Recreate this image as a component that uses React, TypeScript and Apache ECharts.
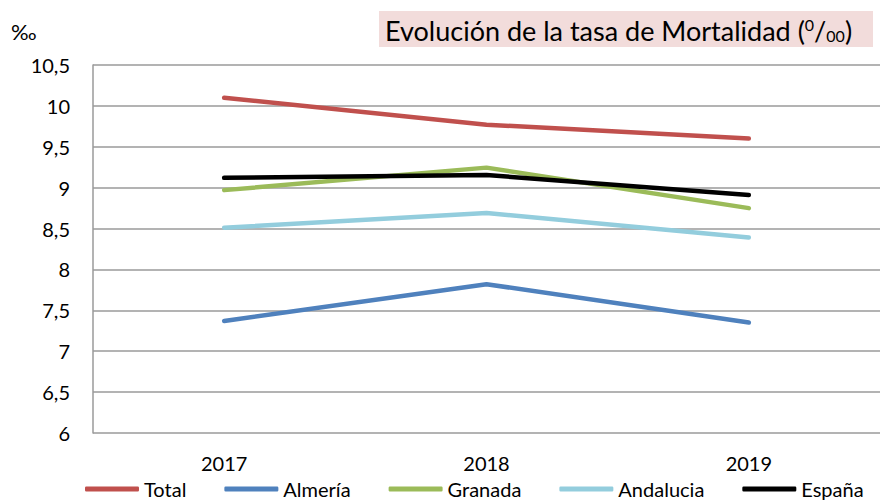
import React, { useEffect, useRef } from "react";
import * as echarts from "echarts";

const years = ["2017", "2018", "2019"];
const total = [10.1, 9.77, 9.6];
const almeria = [7.37, 7.82, 7.35];
const granada = [8.97, 9.245, 8.75];
const andalucia = [8.51, 8.69, 8.39];
const espana = [9.12, 9.155, 8.91];

const seriesNames = ["Total", "Almería", "Granada", "Andalucia", "España"];
const seriesColors = ["#c0504d", "#4f81bd", "#9bbb59", "#93cddd", "#000000"];
const seriesData = [total, almeria, granada, andalucia, espana];

const FONT = "Lato, 'Noto Sans', sans-serif";

export default function App() {
  const ref = useRef<HTMLDivElement>(null);
  useEffect(() => {
    document.body.style.margin = "0";
    if (!ref.current) return;
    const chart = echarts.init(ref.current, null, { renderer: "svg" });
    chart.setOption({
      animation: false,
      backgroundColor: "#ffffff",
      textStyle: { fontFamily: FONT },
      grid: { left: 93, top: 65, width: 798, height: 368, containLabel: false },
      graphic: [
        {
          type: "rect",
          shape: { x: 379, y: 11, width: 494, height: 36 },
          style: { fill: "#f2dcdb" },
        },
        {
          type: "text",
          x: 385,
          y: 30,
          style: {
            text: "Evolución de la tasa de Mortalidad ({sup|0}/{sub|00})",
            fontFamily: FONT,
            fontSize: 27,
            fill: "#000",
            verticalAlign: "middle",
            rich: {
              sup: { fontSize: 16, verticalAlign: "top", fontFamily: FONT, fill: "#000" },
              sub: { fontSize: 16, verticalAlign: "bottom", fontFamily: FONT, fill: "#000" },
            },
          },
        },
        {
          type: "text",
          x: 11,
          y: 31,
          style: { text: "‰", fontFamily: FONT, fontSize: 22, fill: "#000", verticalAlign: "middle" },
        },
      ],
      legend: {
        top: 479,
        left: 85,
        itemWidth: 54,
        itemHeight: 5,
        itemGap: 38,
        padding: 0,
        icon: "roundRect",
        textStyle: { fontFamily: FONT, fontSize: 20, color: "#000" },
        data: seriesNames,
      },
      xAxis: {
        type: "category",
        data: years,
        boundaryGap: true,
        axisLine: { show: false },
        axisTick: { show: false },
        axisLabel: { fontFamily: FONT, fontSize: 20, color: "#000", margin: 20 },
      },
      yAxis: {
        type: "value",
        min: 6,
        max: 10.5,
        interval: 0.5,
        axisLine: { show: true, lineStyle: { color: "#9a9a9a", width: 1.5 } },
        axisTick: { show: false },
        splitLine: { show: true, lineStyle: { color: "#9a9a9a", width: 1.5 } },
        axisLabel: {
          fontFamily: FONT,
          fontSize: 20,
          color: "#000",
          margin: 23,
          formatter: (v: number) => String(v).replace(".", ","),
        },
      },
      series: seriesNames.map((name, i) => ({
        name,
        type: "line",
        data: seriesData[i],
        symbol: "none",
        color: seriesColors[i],
        lineStyle: { width: 4.5, color: seriesColors[i], cap: "round", join: "round" },
      })),
    });
    return () => chart.dispose();
  }, []);
  return <div ref={ref} style={{ width: 880, height: 501 }} />;
}
